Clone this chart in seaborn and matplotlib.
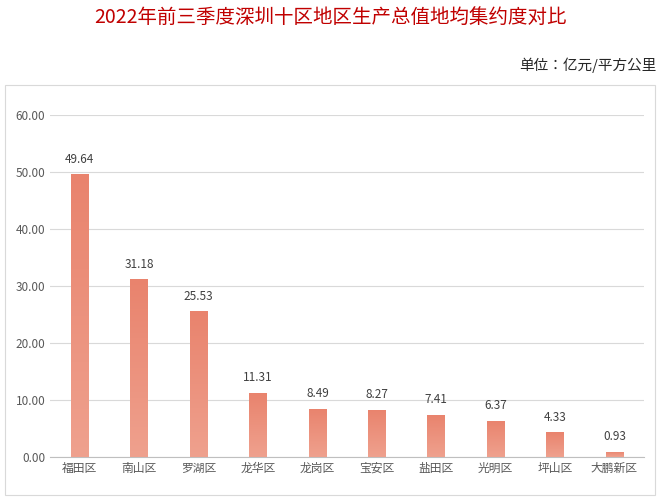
import numpy as np
import pandas as pd
import matplotlib
matplotlib.use("Agg")
import matplotlib.pyplot as plt
import seaborn as sns
from matplotlib.patches import Rectangle
from matplotlib.colors import LinearSegmentedColormap
from matplotlib import font_manager

cjk = None
for f in font_manager.fontManager.ttflist:
    if "CJK" in f.name and ("SC" in f.name or cjk is None):
        cjk = f.name
        if "SC" in f.name:
            break
plt.rcParams["font.family"] = [cjk, "DejaVu Sans"] if cjk else ["DejaVu Sans"]
plt.rcParams["axes.unicode_minus"] = False

districts = ["福田区", "南山区", "罗湖区", "龙华区", "龙岗区", "宝安区", "盐田区", "光明区", "坪山区", "大鹏新区"]
values = [49.64, 31.18, 25.53, 11.31, 8.49, 8.27, 7.41, 6.37, 4.33, 0.93]
yticks = [0, 10, 20, 30, 40, 50, 60]

df = pd.DataFrame({"district": districts, "value": values})

fig = plt.figure(figsize=(6.6, 5.0), dpi=100)
fig.patches.append(Rectangle((5/660, 5/500), 650/660, 410/500, transform=fig.transFigure,
                             fill=False, edgecolor="#D9D9D9", linewidth=0.8))
ax = fig.add_axes([0.076, 0.086, 0.9, 0.684])
sns.barplot(data=df, x="district", y="value", ax=ax, color="#EC8A74", width=0.3, zorder=3)

cmap = LinearSegmentedColormap.from_list("g", ["#EFA18E", "#E9836D"])
grad = np.linspace(0, 1, 256).reshape(-1, 1)
for p in ax.patches:
    x0, y0, w, h = p.get_x(), p.get_y(), p.get_width(), p.get_height()
    im = ax.imshow(grad, cmap=cmap, origin="lower", aspect="auto",
                   extent=[x0, x0 + w, y0, y0 + h], zorder=3)
    im.set_clip_path(p)
    p.set_facecolor("none")
    p.set_edgecolor("none")

for i, v in enumerate(values):
    ax.text(i, v + 1.5, f"{v:.2f}", ha="center", va="bottom", fontsize=8.5, color="#404040")

ax.set_xlim(-0.5, len(districts) - 0.5)
ax.set_ylim(0, 60)
ax.set_yticks(yticks)
ax.set_yticklabels([f"{t:.2f}" for t in yticks], fontsize=8.5, color="#595959")
ax.tick_params(axis="x", labelsize=8.5, colors="#595959", length=0)
ax.tick_params(axis="y", length=0)
ax.set_xlabel("")
ax.set_ylabel("")
ax.grid(axis="y", color="#D9D9D9", linewidth=0.8, zorder=0)
for s in ["top", "right", "left"]:
    ax.spines[s].set_visible(False)
ax.spines["bottom"].set_color("#BFBFBF")

fig.text(0.5, 0.965, "2022年前三季度深圳十区地区生产总值地均集约度对比", ha="center", va="center",
         fontsize=14, color="#C00000")
fig.text(0.995, 0.87, "单位：亿元/平方公里", ha="right", va="center", fontsize=10.5, color="#262626")

fig.savefig("out.png", dpi=100)
